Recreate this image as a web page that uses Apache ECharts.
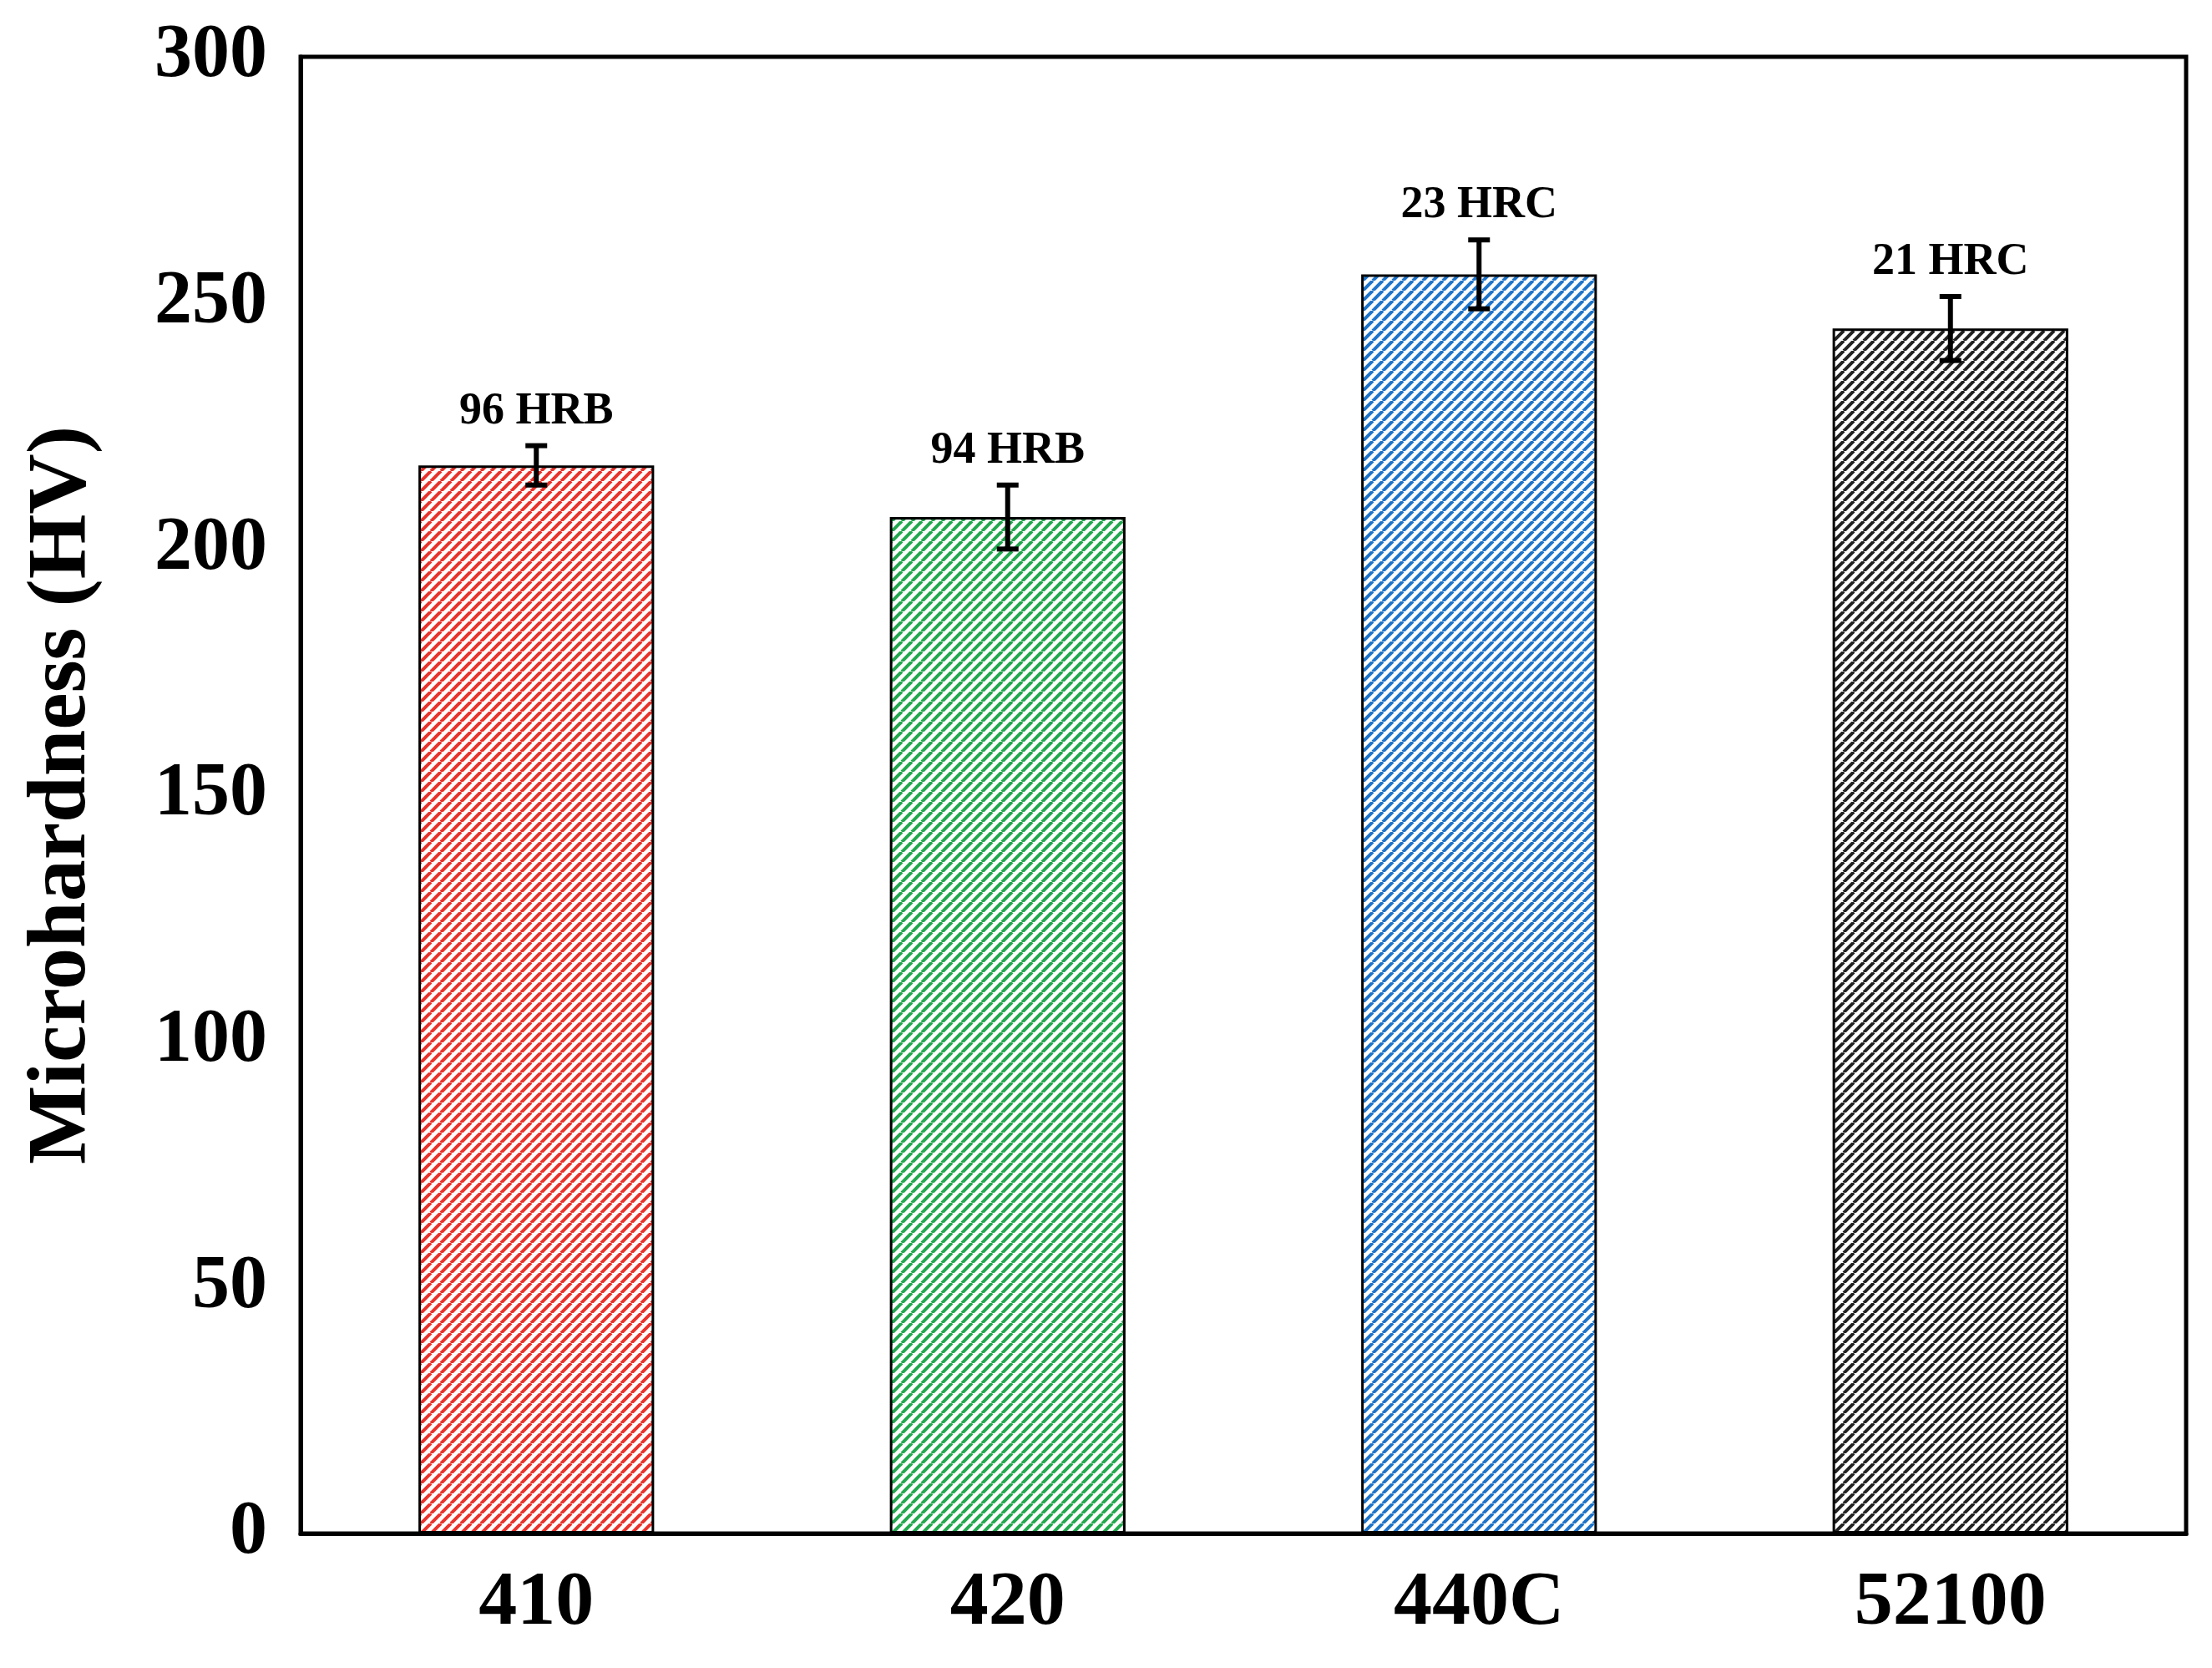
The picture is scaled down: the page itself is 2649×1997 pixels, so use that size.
<!DOCTYPE html><html><head><meta charset="utf-8">
<script src="https://cdn.jsdelivr.net/npm/echarts@6/dist/echarts.min.js"></script>
<style>html,body{margin:0;background:#fff}#c{width:2649px;height:1997px}</style></head><body><div id="c"></div>
<script>
const categories=['410','420','440C','52100'];
const values=[217,206.5,255.8,244.8];
const errors=[4,6.5,7,6.5];
const labels=['96 HRB','94 HRB','23 HRC','21 HRC'];
const colors=['#e8322b','#22a84e','#1f74c9','#222222'];
function pat(col){const c=document.createElement('canvas');c.width=12;c.height=12;const g=c.getContext('2d');g.fillStyle='#fff';g.fillRect(0,0,12,12);g.strokeStyle=col;g.lineWidth=4;
for(let k=-12;k<=24;k+=12){g.beginPath();g.moveTo(k,12);g.lineTo(k+12,0);g.stroke();}return c;}
const font='Liberation Serif';
const chart=echarts.init(document.getElementById('c'));
chart.setOption({
grid:{left:360,right:31,top:68,bottom:161,show:true,borderColor:'#000',borderWidth:5,backgroundColor:'transparent'},
xAxis:{type:'category',data:categories,axisLine:{lineStyle:{color:'#000',width:5}},axisTick:{length:25,lineStyle:{width:5,color:'#000'}},
axisLabel:{fontFamily:font,fontWeight:'bold',fontSize:92,color:'#000',margin:38}},
yAxis:{type:'value',min:0,max:300,interval:50,name:'Microhardness (HV)',nameLocation:'middle',nameGap:235,
nameTextStyle:{fontFamily:font,fontWeight:'bold',fontSize:100,color:'#000'},
axisLine:{show:true,lineStyle:{color:'#000',width:5}},axisTick:{show:false},splitLine:{show:false},
axisLabel:{fontFamily:font,fontWeight:'bold',fontSize:90,color:'#000',margin:40}},
series:[{type:'bar',barWidth:'50%',data:values.map((v,i)=>({value:v,itemStyle:{color:{image:pat(colors[i]),repeat:'repeat'},borderColor:'#000',borderWidth:3}})),z:2},
{type:'custom',z:5,data:values.map((v,i)=>[i,v,errors[i],labels[i]]),
renderItem:(p,api)=>{const x=api.value(0),v=api.value(1),e=api.value(2);const t=api.coord([x,v+e]),b=api.coord([x,v-e]);const w=13;
const st={stroke:'#000',lineWidth:6};
return {type:'group',children:[
{type:'line',shape:{x1:t[0],y1:t[1],x2:b[0],y2:b[1]},style:st},
{type:'line',shape:{x1:t[0]-w,y1:t[1],x2:t[0]+w,y2:t[1]},style:st},
{type:'line',shape:{x1:b[0]-w,y1:b[1],x2:b[0]+w,y2:b[1]},style:st},
{type:'text',style:{text:labels[p.dataIndex],x:t[0],y:t[1]-14,align:'center',verticalAlign:'bottom',font:'bold 54px "Liberation Serif"',fill:'#000'}}]};}}]
});
</script></body></html>
